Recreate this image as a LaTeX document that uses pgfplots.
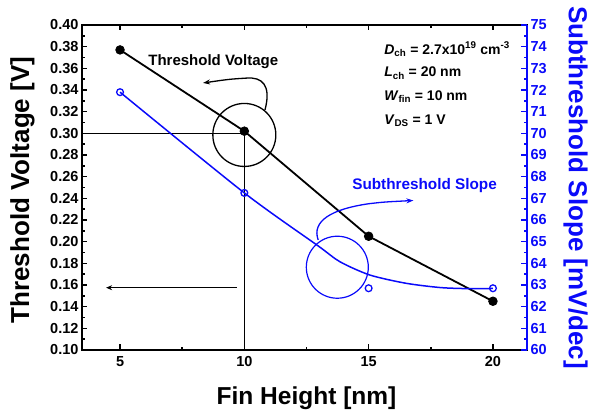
\documentclass[border=0pt]{standalone}
\usepackage{fontspec}
\setmainfont{Liberation Sans}
\usepackage{pgfplots}
\pgfplotsset{compat=1.18}
\usetikzlibrary{arrows.meta}
\definecolor{sblue}{RGB}{10,10,250}
\begin{document}
\begin{tikzpicture}
\path[use as bounding box] (-82pt,-62pt) rectangle (508pt,350pt);
\pgfplotsset{
  common/.style={
    scale only axis,
    width=445pt, height=325pt,
    xmin=3.47, xmax=21.37,
    clip=false,
    tick align=inside,
    major tick length=5.5pt, minor tick length=3pt,
    every tick/.style={line width=1.6pt},
    /pgf/number format/assume math mode=true,
    ticklabel style={font=\fontsize{14.5}{16}\selectfont\bfseries},
  }
}
\begin{axis}[common,
  ymin=0.10, ymax=0.40,
  axis line style={line width=2.2pt},
  xtick={5,10,15,20}, minor xtick={7.5,12.5,17.5},
  xtick pos=both, xticklabel pos=bottom,
  xticklabel style={yshift=-3pt},
  ytick={0.10,0.12,0.14,0.16,0.18,0.20,0.22,0.24,0.26,0.28,0.30,0.32,0.34,0.36,0.38,0.40},
  minor ytick={0.11,0.13,0.15,0.17,0.19,0.21,0.23,0.25,0.27,0.29,0.31,0.33,0.35,0.37,0.39},
  ytick pos=left,
  yticklabel style={/pgf/number format/.cd, fixed, fixed zerofill, precision=2},
  xlabel={Fin Height [nm]},
  ylabel={Threshold Voltage [V]},
  every axis x label/.style={at={(axis description cs:0.5045,-0.168)}, anchor=base, font=\fontsize{24.5}{26}\selectfont\bfseries},
  every axis y label/.style={at={(axis description cs:-0.134,0.492)}, rotate=90, anchor=center, font=\fontsize{26}{28}\selectfont\bfseries},
]
\addplot[black, line width=1.8pt, mark=*, mark size=4.3pt, mark options={line width=0.8pt}]
  coordinates {(5,0.377)(10,0.302)(15,0.205)(20,0.145)};
% guide lines and annotations
\draw[line width=1.5pt] (axis cs:3.47,0.30) -- (axis cs:10,0.30);
\draw[line width=1.1pt] (axis cs:10,0.30) -- (axis cs:10,0.10);
\draw[line width=1.3pt] (axis cs:10,0.2985) circle [radius=31.5pt];
\draw[line width=1.3pt, -{Stealth[length=7pt,width=5pt]}]
  (axis cs:10.83,0.3215) .. controls (axis cs:11.1,0.345) and (axis cs:10.7,0.352) .. (axis cs:10.1,0.351)
  .. controls (axis cs:9.4,0.350) .. (axis cs:8.34,0.3465);
\draw[line width=1.5pt, -{Stealth[length=6pt,width=5pt]}] (axis cs:9.69,0.1575) -- (axis cs:4.44,0.1575);
\node[font=\fontsize{15}{17}\selectfont\bfseries] at (axis cs:8.75,0.3658) {Threshold Voltage};
\node[anchor=west, font=\fontsize{14}{16}\selectfont\bfseries] at (axis cs:15.49,0.3776) {\textit{D}\textsubscript{ch} = 2.7x10\textsuperscript{19} cm\textsuperscript{-3}};
\node[anchor=west, font=\fontsize{14}{16}\selectfont\bfseries] at (axis cs:15.49,0.3556) {\textit{L}\textsubscript{ch} = 20 nm};
\node[anchor=west, font=\fontsize{14}{16}\selectfont\bfseries] at (axis cs:15.49,0.3336) {\textit{W}\textsubscript{fin} = 10 nm};
\node[anchor=west, font=\fontsize{14}{16}\selectfont\bfseries] at (axis cs:15.49,0.3116) {\textit{V}\textsubscript{DS} = 1 V};
\end{axis}
\begin{axis}[common,
  ymin=60, ymax=75,
  axis x line=none, axis y line*=right,
  y axis line style={sblue, line width=2.2pt},
  ytick={60,61,...,75},
  minor ytick={60.5,61.5,62.5,63.5,64.5,65.5,66.5,67.5,68.5,69.5,70.5,71.5,72.5,73.5,74.5},
  ytick style={sblue},
  minor tick style={sblue},
  yticklabel style={sblue},
  ylabel={Subthreshold Slope [mV/dec]},
  every axis y label/.style={at={(axis description cs:1.109,0.5)}, rotate=-90, anchor=center, sblue, font=\fontsize{26}{28}\selectfont\bfseries},
]
\addplot[sblue, line width=1.5pt, smooth, tension=0.45]
  coordinates {(5,71.9)(10,67.25)(12.95,64.82)(13.85,64.07)(15.05,63.46)(16.5,63.08)(17.9,62.88)(19.1,62.83)(20,62.84)};
\addplot[sblue, only marks, mark=o, mark size=3.4pt, mark options={line width=1.3pt}]
  coordinates {(5,71.9)(10,67.25)(15,62.85)(20,62.85)};
\draw[sblue, line width=1.2pt] (axis cs:13.74,63.82) circle [radius=31pt];
\draw[sblue, line width=1.3pt, -{Stealth[length=7pt,width=5pt]}]
  (axis cs:12.97,65.08) .. controls (axis cs:12.7,65.95) and (axis cs:13.5,66.5) .. (axis cs:15.0,66.75)
  .. controls (axis cs:15.6,66.83) .. (axis cs:16.8,66.9);
\node[sblue, font=\fontsize{15.3}{17}\selectfont\bfseries] at (axis cs:17.25,67.58) {Subthreshold Slope};
\end{axis}
\end{tikzpicture}
\end{document}
